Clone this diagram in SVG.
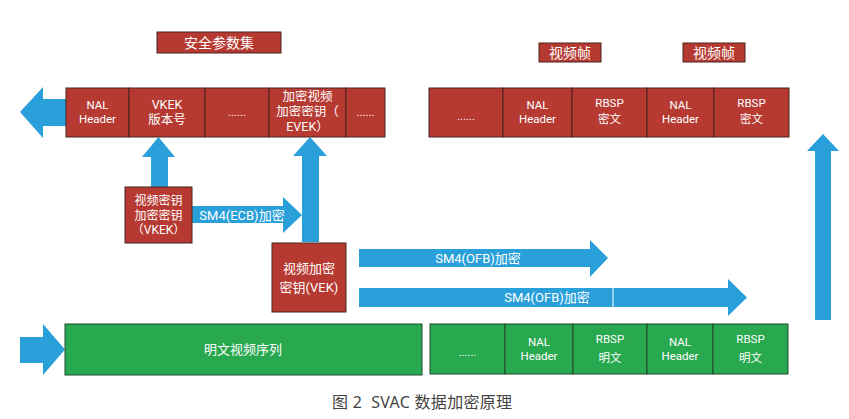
<svg xmlns="http://www.w3.org/2000/svg" width="849" height="419" viewBox="0 0 849 419">
<style>
.r{fill:#b73a32;stroke:#4a2420;stroke-width:1}
.g{fill:#28a84f;stroke:#1f4a2c;stroke-width:1}
.a{fill:#29a0da}
text{font-family:Roboto,"Noto Sans CJK SC",sans-serif;fill:#fff;text-anchor:middle}
.s{font-size:11.5px}
.m{font-size:12.5px}
.cap{font-family:"Noto Sans","Noto Sans CJK SC",sans-serif;fill:#444;font-size:16px;text-anchor:start;letter-spacing:0.3px}
</style>
<rect width="849" height="419" fill="#fff"/>
<g id="connectors">
<polygon class="a" points="66,99 43,99 43,87 20,112 43,138 43,126 66,126"/>
<polygon class="a" points="151,187 151,157 142,157 158.5,137 175,157 168,157 168,187"/>
<polygon class="a" points="192,206 283,206 283,197 302,215 283,233 283,223 192,223"/>
<polygon class="a" points="302,242 302,156 293,156 310,137 327,156 319,156 319,242"/>
<polygon class="a" points="359,249 590,249 590,240 608,258 590,277 590,267 359,267"/>
<polygon class="a" points="359,288 728,288 728,279 747,297.5 728,316 728,307 359,307"/>
<line x1="613" y1="288" x2="613" y2="307" stroke="#fff" stroke-width="1"/>
<polygon class="a" points="815,320 815,151 807,151 823,134 839,151 831,151 831,320"/>
<polygon class="a" points="20,337 43,337 43,324 65,349.5 43,375 43,363 20,363"/>
<text x="242" y="220" font-size="13">SM4(ECB)加密</text>
<text x="478" y="263" font-size="13">SM4(OFB)加密</text>
<text x="547" y="302" font-size="13">SM4(OFB)加密</text>
</g>
<g id="security-params-label"><rect class="r" x="157" y="32" width="124" height="21"/><text x="219" y="48" font-size="14">安全参数集</text></g>
<g id="frame-label-1"><rect class="r" x="539" y="43" width="62" height="19"/><text x="570" y="58" font-size="14">视频帧</text></g>
<g id="frame-label-2"><rect class="r" x="683" y="43" width="62" height="19"/><text x="714" y="58" font-size="14">视频帧</text></g>
<g id="param-bar">
<rect class="r" x="66" y="88" width="63" height="49"/>
<rect class="r" x="129" y="88" width="76" height="49"/>
<rect class="r" x="205" y="88" width="64" height="49"/>
<rect class="r" x="269" y="88" width="77" height="49"/>
<rect class="r" x="346" y="88" width="39" height="49"/>
<text class="s" x="97.5" y="109">NAL</text><text class="s" x="97.5" y="123">Header</text>
<text class="m" x="167" y="109">VKEK</text><text class="m" x="167" y="124">版本号</text>
<text class="s" x="237" y="116">......</text>
<text class="m" x="307.5" y="101">加密视频</text><text class="m" x="307.5" y="116">加密密钥（</text><text class="m" x="307.5" y="131">EVEK）</text>
<text class="s" x="365.5" y="116">......</text>
</g>
<g id="cipher-bar">
<rect class="r" x="429" y="88" width="74" height="49"/>
<rect class="r" x="503" y="88" width="69" height="49"/>
<rect class="r" x="572" y="88" width="75" height="49"/>
<rect class="r" x="647" y="88" width="67" height="49"/>
<rect class="r" x="714" y="88" width="75" height="49"/>
<text class="s" x="466" y="120">......</text>
<text class="s" x="537.5" y="109">NAL</text><text class="s" x="537.5" y="123">Header</text>
<text class="s" x="609.5" y="107">RBSP</text><text class="s" x="609.5" y="123">密文</text>
<text class="s" x="680.5" y="109">NAL</text><text class="s" x="680.5" y="123">Header</text>
<text class="s" x="751.5" y="107">RBSP</text><text class="s" x="751.5" y="123">密文</text>
</g>
<g id="vkek"><rect class="r" x="125" y="187" width="67" height="56"/>
<text x="158.5" y="205" font-size="12">视频密钥</text><text x="158.5" y="219.5" font-size="12">加密密钥</text><text x="158.5" y="234" font-size="12">（VKEK）</text></g>
<g id="vek"><rect class="r" x="272" y="243" width="74" height="69"/>
<text x="309" y="273" font-size="13">视频加密</text><text x="309" y="292" font-size="13">密钥(VEK)</text></g>
<g id="plain-seq"><rect class="g" x="65" y="324" width="357" height="51"/><text x="243" y="354" font-size="13">明文视频序列</text></g>
<g id="plain-bar">
<rect class="g" x="430" y="324" width="75" height="50"/>
<rect class="g" x="505" y="324" width="68" height="50"/>
<rect class="g" x="573" y="324" width="74" height="50"/>
<rect class="g" x="647" y="324" width="66" height="50"/>
<rect class="g" x="713" y="324" width="75" height="50"/>
<text class="s" x="467.5" y="356">......</text>
<text class="s" x="539" y="346">NAL</text><text class="s" x="539" y="360">Header</text>
<text class="s" x="610" y="343">RBSP</text><text class="s" x="610" y="362">明文</text>
<text class="s" x="680" y="346">NAL</text><text class="s" x="680" y="360">Header</text>
<text class="s" x="750.5" y="343">RBSP</text><text class="s" x="750.5" y="362">明文</text>
</g>
<text class="cap" x="332" y="408" xml:space="preserve">图 2  SVAC 数据加密原理</text>
</svg>
